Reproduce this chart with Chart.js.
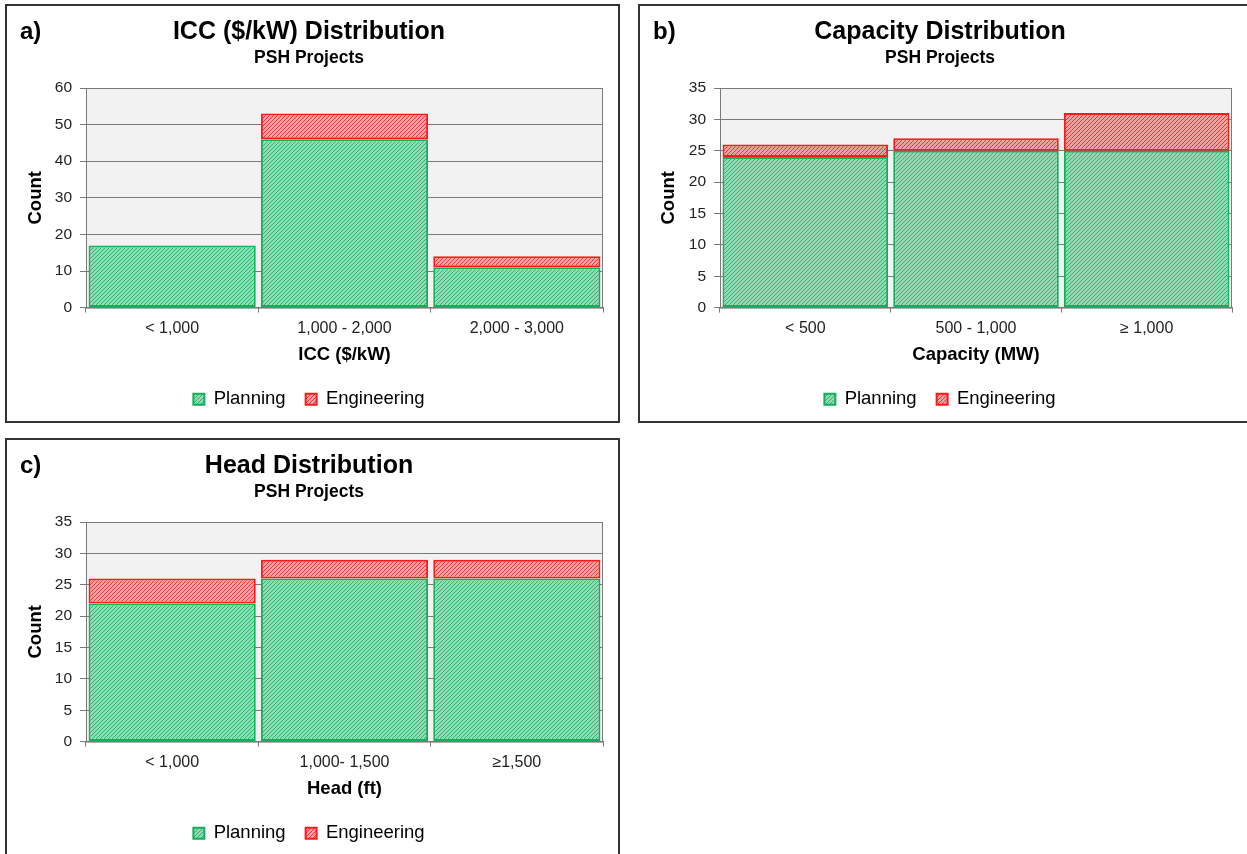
<!DOCTYPE html>
<html>
<head>
<meta charset="utf-8">
<script src="https://cdn.jsdelivr.net/npm/chart.js@4.4.1/dist/chart.umd.min.js"></script>
<style>
	body { margin: 0; background: #fff; overflow: hidden; width: 1247px; height: 854px; position: relative; }
	.panel { position: absolute; border: 2px solid #333; box-sizing: border-box; background: #fff; overflow: hidden; }
	.panel canvas { position: absolute; left: 0; top: 0; }
</style>
</head>
<body>
<div class="panel" style="left:5px;top:4px;width:615px;height:419px"><canvas id="chartA" width="611" height="415"></canvas></div>
<div class="panel" style="left:638px;top:4px;width:620px;height:419px"><canvas id="chartB" width="607" height="415"></canvas></div>
<div class="panel" style="left:5px;top:438px;width:615px;height:430px"><canvas id="chartC" width="611" height="415"></canvas></div>
<script>
(() => {
	"use strict";

	// Data
	const iccLabels = ["< 1,000", "1,000 - 2,000", "2,000 - 3,000"];
	const iccPlanning = [17, 46, 11];
	const iccEngineering = [0, 7, 3];

	const capLabels = ["< 500", "500 - 1,000", "\u2265 1,000"];
	const capPlanning = [24, 25, 25];
	const capEngineering = [2, 2, 6];

	const headLabels = ["< 1,000", "1,000- 1,500", "\u22651,500"];
	const headPlanning = [22, 26, 26];
	const headEngineering = [4, 3, 3];

	const FONT = "'Liberation Sans', Arial, sans-serif";
	Chart.defaults.font.family = FONT;
	Chart.defaults.color = "#111";

	// diagonal hatch fill like the Excel pattern
	function hatch(base, line) {
		const c = document.createElement("canvas");
		c.width = 4;
		c.height = 4;
		const g = c.getContext("2d");
		g.fillStyle = base;
		g.fillRect(0, 0, 4, 4);
		g.strokeStyle = line;
		g.lineWidth = 1;
		g.beginPath();
		g.moveTo(-1, 5);
		g.lineTo(5, -1);
		g.moveTo(-1, 1);
		g.lineTo(1, -1);
		g.moveTo(3, 5);
		g.lineTo(5, 3);
		g.stroke();
		return g.createPattern(c, "repeat");
	}
	const greenFill = hatch("#93dbb4", "#2fae6c");
	const redFill = hatch("#f3a2a2", "#e03a3e");

	const panelDeco = {
		id: "panelDeco",
		beforeDraw(chart) {
			const { ctx, chartArea: a } = chart;
			ctx.save();
			ctx.fillStyle = "#f2f2f2";
			ctx.fillRect(a.left, a.top, a.right - a.left, a.bottom - a.top);
			ctx.restore();
		},
		afterDraw(chart, args, opts) {
			const { ctx, chartArea: a } = chart;
			ctx.save();
			ctx.strokeStyle = "#7a7a7a";
			ctx.lineWidth = 1;
			ctx.strokeRect(a.left + 0.5, a.top + 0.5, a.right - a.left - 1, a.bottom - a.top);
			ctx.fillStyle = "#000";
			ctx.font = "bold 24px " + FONT;
			ctx.textBaseline = "middle";
			ctx.fillText(opts.letter, 13, 26);
			ctx.restore();
		},
	};

	function makeChart(id, cfg) {
		return new Chart(document.getElementById(id), {
			type: "bar",
			data: {
				labels: cfg.labels,
				datasets: [
					{
						label: "Planning",
						data: cfg.planning,
						backgroundColor: greenFill,
						borderColor: "#12b058",
						borderWidth: 2,
						borderSkipped: false,
						barPercentage: 0.97,
						categoryPercentage: 1,
					},
					{
						label: "Engineering",
						data: cfg.engineering,
						backgroundColor: redFill,
						borderColor: "#ff1a1a",
						borderWidth: 2,
						borderSkipped: false,
						barPercentage: 0.97,
						categoryPercentage: 1,
					},
				],
			},
			plugins: [panelDeco],
			options: {
				responsive: false,
				animation: false,
				layout: {
					padding: { top: 11, left: 8, right: cfg.padRight, bottom: 2.5 },
				},
				plugins: {
					panelDeco: { letter: cfg.letter },
					title: {
						display: true,
						text: cfg.title,
						color: "#000",
						font: { size: 25, weight: "bold" },
						padding: { top: 0, bottom: 1 },
					},
					subtitle: {
						display: true,
						text: "PSH Projects",
						color: "#000",
						font: { size: 17.5, weight: "bold" },
						padding: { top: 0, bottom: 19 },
					},
					legend: {
						position: "bottom",
						labels: {
							boxWidth: 11,
							boxHeight: 11,
							padding: 20,
							color: "#000",
							font: { size: 18.5 },
						},
					},
					tooltip: { enabled: false },
				},
				scales: {
					x: {
						stacked: true,
						grid: {
							drawOnChartArea: false,
							drawTicks: true,
							tickLength: 5,
							color: "#7a7a7a",
						},
						border: { color: "#7a7a7a" },
						ticks: { padding: 6, color: "#222", font: { size: 16 } },
						title: {
							display: true,
							text: cfg.xTitle,
							color: "#000",
							font: { size: 18.5, weight: "bold" },
							padding: { top: 0, bottom: 4 },
						},
					},
					y: {
						stacked: true,
						min: 0,
						max: cfg.max,
						afterFit(scale) {
							scale.width = cfg.yWidth;
						},
						grid: { color: "#7a7a7a", tickLength: 6 },
						border: { color: "#7a7a7a" },
						ticks: { stepSize: cfg.step, padding: 8, color: "#222", font: { size: 15.5 } },
						title: {
							display: true,
							text: "Count",
							color: "#000",
							font: { size: 18.5, weight: "bold" },
							padding: { top: 10, bottom: 0 },
						},
					},
				},
			},
		});
	}

	makeChart("chartA", {
		letter: "a)",
		title: "ICC ($/kW) Distribution",
		xTitle: "ICC ($/kW)",
		labels: iccLabels,
		planning: iccPlanning,
		engineering: iccEngineering,
		max: 60,
		step: 10,
		yWidth: 71,
		padRight: 15,
	});
	makeChart("chartB", {
		letter: "b)",
		title: "Capacity Distribution",
		xTitle: "Capacity (MW)",
		labels: capLabels,
		planning: capPlanning,
		engineering: capEngineering,
		max: 35,
		step: 5,
		yWidth: 72,
		padRight: 15,
	});
	makeChart("chartC", {
		letter: "c)",
		title: "Head Distribution",
		xTitle: "Head (ft)",
		labels: headLabels,
		planning: headPlanning,
		engineering: headEngineering,
		max: 35,
		step: 5,
		yWidth: 71,
		padRight: 15,
	});
})();
</script>
</body>
</html>
